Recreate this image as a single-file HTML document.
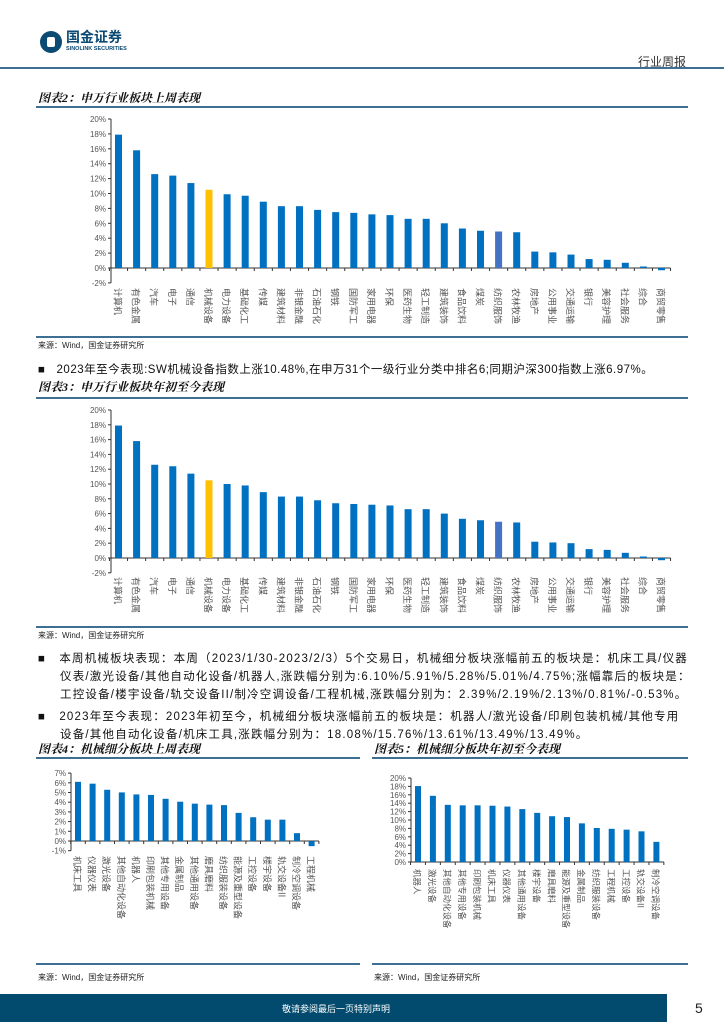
<!DOCTYPE html>
<html><head><meta charset="utf-8">
<style>
body{margin:0;width:724px;height:1024px;position:relative;background:#fff;font-family:"Liberation Sans","Noto Sans CJK SC",sans-serif;overflow:hidden}
.t{position:absolute;white-space:nowrap;color:#111}
.title{font-family:"Liberation Serif","Noto Serif CJK SC",serif;font-style:italic;font-weight:bold;font-size:12px}
.src{font-size:8px;color:#222}
.p{font-size:11.5px;color:#111}
.hl{position:absolute;height:2px;background:#3d6f92}
</style></head><body>
<div style="position:absolute;left:40px;top:31px;width:22px;height:22px;border-radius:50%;background:#0b4a73"></div>
<div style="position:absolute;left:47px;top:37px;width:8px;height:10px;background:#fff;border-radius:2px"></div>
<div class="t" style="left:66px;top:29px;font-size:14px;line-height:16px;font-weight:bold;color:#0b4a73">国金证券</div>
<div class="t" style="left:66px;top:46px;font-size:5.5px;line-height:7px;font-weight:bold;color:#0b4a73">SINOLINK SECURITIES</div>
<div class="t" style="left:638px;top:53px;font-size:12px;color:#333">行业周报</div>
<div class="hl" style="left:0;top:67px;width:724px"></div>

<div class="t title" style="left:38px;top:89px">图表2：申万行业板块上周表现</div>
<div class="hl" style="left:36px;top:106px;width:652px;height:1.5px"></div>
<div class="hl" style="left:36px;top:336px;width:652px;height:1.5px"></div>
<div class="t src" style="left:38px;top:340px">来源：Wind，国金证券研究所</div>
<div class="t p" style="left:38px;top:361px;letter-spacing:0.5px">■&nbsp;&nbsp;&nbsp;2023年至今表现:SW机械设备指数上涨10.48%,在申万31个一级行业分类中排名6;同期沪深300指数上涨6.97%。</div>
<div class="t title" style="left:38px;top:378px">图表3：申万行业板块年初至今表现</div>
<div class="hl" style="left:36px;top:397px;width:652px;height:1.5px"></div>
<div class="hl" style="left:36px;top:626px;width:652px;height:1.5px"></div>
<div class="t src" style="left:38px;top:630px">来源：Wind，国金证券研究所</div>

<div class="t p" style="left:38px;top:650px;line-height:18px;letter-spacing:1.2px">■&nbsp;&nbsp;&nbsp;本周机械板块表现：本周（2023/1/30-2023/2/3）5个交易日，机械细分板块涨幅前五的板块是：机床工具/仪器<br><span style="padding-left:22px">仪表/激光设备/其他自动化设备/机器人,涨跌幅分别为:6.10%/5.91%/5.28%/5.01%/4.75%;涨幅靠后的板块是：</span><br><span style="padding-left:22px">工控设备/楼宇设备/轨交设备II/制冷空调设备/工程机械,涨跌幅分别为：2.39%/2.19%/2.13%/0.81%/-0.53%。</span></div>
<div class="t p" style="left:38px;top:708px;line-height:18px;letter-spacing:1.2px">■&nbsp;&nbsp;&nbsp;2023年至今表现：2023年初至今，机械细分板块涨幅前五的板块是：机器人/激光设备/印刷包装机械/其他专用<br><span style="padding-left:22px">设备/其他自动化设备/机床工具,涨跌幅分别为：18.08%/15.76%/13.61%/13.49%/13.49%。</span></div>

<div class="t title" style="left:38px;top:740px">图表4：机械细分板块上周表现</div>
<div class="t title" style="left:374px;top:740px">图表5：机械细分板块年初至今表现</div>
<div class="hl" style="left:36px;top:757px;width:324px;height:1.5px"></div>
<div class="hl" style="left:372px;top:757px;width:316px;height:1.5px"></div>
<div class="hl" style="left:36px;top:963px;width:324px;height:1.5px"></div>
<div class="hl" style="left:372px;top:963px;width:316px;height:1.5px"></div>
<div class="t src" style="left:38px;top:972px">来源：Wind，国金证券研究所</div>
<div class="t src" style="left:374px;top:972px">来源：Wind，国金证券研究所</div>

<div style="position:absolute;left:0;top:994px;width:667px;height:28px;background:#024b6e"></div>
<div class="t" style="left:282px;top:1002px;font-size:9px;color:#fff">敬请参阅最后一页特别声明</div>
<div class="t" style="left:695px;top:1000px;font-size:14px;color:#222">5</div>

<svg id="charts" width="724" height="1024" style="position:absolute;left:0;top:0" xmlns="http://www.w3.org/2000/svg"></svg>

<script>
const industryNames = ["计算机","有色金属","汽车","电子","通信","机械设备","电力设备","基础化工","传媒","建筑材料","非银金融","石油石化","钢铁","国防军工","家用电器","环保","医药生物","轻工制造","建筑装饰","食品饮料","煤炭","纺织服饰","农林牧渔","房地产","公用事业","交通运输","银行","美容护理","社会服务","综合","商贸零售"];
const weekValues = [17.9,15.8,12.6,12.4,11.4,10.5,9.9,9.7,8.9,8.3,8.3,7.8,7.5,7.4,7.2,7.1,6.6,6.6,6.0,5.3,5.0,4.9,4.8,2.2,2.1,1.8,1.2,1.1,0.7,0.2,-0.3];
const ytdValues = [17.9,15.8,12.6,12.4,11.4,10.5,10.0,9.8,8.9,8.3,8.3,7.8,7.4,7.3,7.2,7.1,6.6,6.6,6.0,5.3,5.1,4.9,4.8,2.2,2.1,2.0,1.2,1.1,0.7,0.2,-0.3];
const industryTicks = [-2,0,2,4,6,8,10,12,14,16,18,20];
const subWeekNames = ["机床工具","仪器仪表","激光设备","其他自动化设备","机器人","印刷包装机械","其他专用设备","金属制品","其他通用设备","磨具磨料","纺织服装设备","能源及重型设备","工控设备","楼宇设备","轨交设备II","制冷空调设备","工程机械"];
const subWeekValues = [6.1,5.91,5.28,5.01,4.8,4.75,4.35,4.05,3.85,3.75,3.7,2.9,2.45,2.2,2.2,0.81,-0.53];
const subWeekTicks = [-1,0,1,2,3,4,5,6,7];
const subYtdNames = ["机器人","激光设备","其他自动化设备","其他专用设备","印刷包装机械","机床工具","仪器仪表","其他通用设备","楼宇设备","磨具磨料","能源及重型设备","金属制品","纺织服装设备","工程机械","工控设备","轨交设备II","制冷空调设备"];
const subYtdValues = [18.08,15.76,13.61,13.49,13.49,13.4,13.2,12.6,11.7,10.9,10.7,9.2,8.1,7.9,7.7,7.3,4.8];
const subYtdTicks = [0,2,4,6,8,10,12,14,16,18,20];

const svg = document.getElementById('charts');
const NS = 'http://www.w3.org/2000/svg';
function mk(tag, attrs, parent){const e=document.createElementNS(NS,tag);for(const k in attrs)e.setAttribute(k,attrs[k]);(parent||svg).appendChild(e);return e;}

function drawChart(o){
  const g = mk('g',{});
  
  
  const y = v => o.zeroY - v*o.scale;
  const x = i => o.x0 + i*o.step;
  const top = y(o.ticks[o.ticks.length-1]), bot = y(o.ticks[0]);
  const ax = mk('line',{x1:o.axisX,x2:o.axisX,y1:top,y2:bot,stroke:'#333','stroke-width':1},g);
  
  
  o.ticks.forEach(t=>{
    mk('line',{x1:o.axisX-3,x2:o.axisX,y1:y(t),y2:y(t),stroke:'#333'},g);
    const tx = mk('text',{x:o.axisX-5,y:y(t)+3,'text-anchor':'end','font-size':o.fs,fill:'#555','font-family':'Liberation Sans, sans-serif'},g);
    tx.textContent = t+'%';
    
    
  });
  const n = o.values.length;
  const xEnd = x(n-1)+o.step/2;
  const xl = mk('line',{x1:o.axisX,x2:xEnd,y1:o.zeroY,y2:o.zeroY,stroke:'#333'},g);
  
  
  for(let i=0;i<=n;i++){ mk('line',{x1:x(i)-o.step/2,x2:x(i)-o.step/2,y1:o.zeroY,y2:o.zeroY+3,stroke:'#333'},g); }
  o.values.forEach((v,i)=>{
    const c = (o.colors && o.colors[o.names[i]]) || '#0070c0';
    const r = mk('rect',{x:x(i)-o.bw/2,y:Math.min(y(v),o.zeroY),width:o.bw,height:Math.abs(y(v)-o.zeroY),fill:c},g);
    
    
    const lb = mk('text',{x:0,y:0,transform:`translate(${x(i)-o.lfs*0.45},${o.labelY}) rotate(90)`,'font-size':o.lfs,fill:'#555','font-family':'Noto Sans CJK SC, sans-serif'},g);
    lb.textContent = o.names[i];
    
    
  });
}
const hi = {"机械设备":"#ffc000","纺织服饰":"#4472c4"};
drawChart({name:'chart2-weekly-industry',names:industryNames,values:weekValues,ticks:industryTicks,axisX:111,zeroY:268,scale:7.45,x0:118.5,step:18.1,bw:7,labelY:288,fs:8,lfs:9,colors:hi});
drawChart({name:'chart3-ytd-industry',names:industryNames,values:ytdValues,ticks:industryTicks,axisX:111,zeroY:558,scale:7.4,x0:118.5,step:18.1,bw:7,labelY:577,fs:8,lfs:9,colors:hi});
drawChart({name:'chart4-weekly-sub',names:subWeekNames,values:subWeekValues,ticks:subWeekTicks,axisX:71,zeroY:841,scale:9.7,x0:78,step:14.6,bw:6,labelY:856,fs:8,lfs:9});
drawChart({name:'chart5-ytd-sub',names:subYtdNames,values:subYtdValues,ticks:subYtdTicks,axisX:411,zeroY:862,scale:4.2,x0:418,step:14.9,bw:6,labelY:869,fs:8,lfs:8.5});
</script>
</body></html>
